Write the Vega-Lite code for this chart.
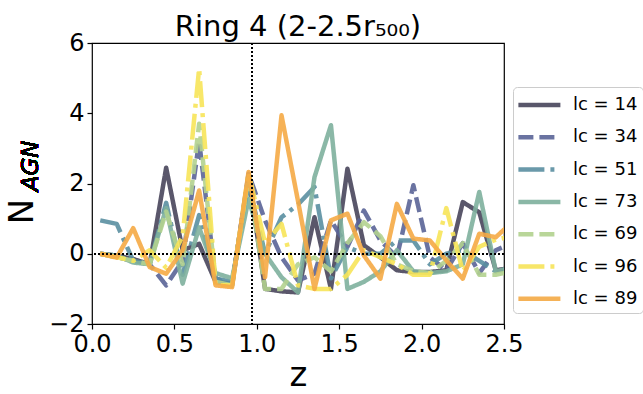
{
  "$schema": "https://vega.github.io/schema/vega-lite/v6.json",
  "width": 412,
  "height": 281,
  "autosize": {"type": "none"},
  "padding": {"left": 92, "top": 43, "right": 139, "bottom": 70},
  "background": "white",
  "title": {"text": "Ring 4 (2-2.5r₅₀₀)", "fontSize": 29, "font": "DejaVu Sans", "fontWeight": "normal", "anchor": "middle", "frame": "group", "offset": 7, "dy": 18, "color": "black"},
  "config": {
    "font": "DejaVu Sans",
    "view": {"stroke": "black", "strokeWidth": 1.2},
    "axis": {"grid": false, "domain": false, "labelFlush": false, "tickColor": "black", "tickSize": 5, "tickWidth": 1.2, "labelColor": "black", "labelFont": "DejaVu Sans", "labelFontSize": 24, "titleColor": "black", "titleFont": "DejaVu Sans", "titleFontWeight": "normal"}
  },
  "data": {"values": [
    {"s":"lc = 14","z":0.05,"n":0},{"s":"lc = 14","z":0.15,"n":-0.05},{"s":"lc = 14","z":0.25,"n":-0.15},{"s":"lc = 14","z":0.35,"n":-0.3},{"s":"lc = 14","z":0.45,"n":2.45},{"s":"lc = 14","z":0.55,"n":0.1},{"s":"lc = 14","z":0.65,"n":0.28},{"s":"lc = 14","z":0.75,"n":-0.8},{"s":"lc = 14","z":0.85,"n":-0.85},{"s":"lc = 14","z":0.95,"n":2.2},{"s":"lc = 14","z":1.05,"n":-1.0},{"s":"lc = 14","z":1.15,"n":-1.07},{"s":"lc = 14","z":1.25,"n":-1.1},{"s":"lc = 14","z":1.35,"n":1.04},{"s":"lc = 14","z":1.45,"n":-1.0},{"s":"lc = 14","z":1.55,"n":2.42},{"s":"lc = 14","z":1.65,"n":0.24},{"s":"lc = 14","z":1.75,"n":-0.1},{"s":"lc = 14","z":1.85,"n":-0.47},{"s":"lc = 14","z":1.95,"n":-0.52},{"s":"lc = 14","z":2.05,"n":-0.52},{"s":"lc = 14","z":2.15,"n":-0.47},{"s":"lc = 14","z":2.25,"n":1.47},{"s":"lc = 14","z":2.35,"n":1.18},{"s":"lc = 14","z":2.45,"n":-0.47},{"s":"lc = 14","z":2.55,"n":-0.4},
    {"s":"lc = 34","z":0.05,"n":0},{"s":"lc = 34","z":0.15,"n":-0.1},{"s":"lc = 34","z":0.25,"n":-0.2},{"s":"lc = 34","z":0.35,"n":-0.3},{"s":"lc = 34","z":0.45,"n":-0.9},{"s":"lc = 34","z":0.55,"n":-0.2},{"s":"lc = 34","z":0.65,"n":3.2},{"s":"lc = 34","z":0.75,"n":-0.7},{"s":"lc = 34","z":0.85,"n":-0.9},{"s":"lc = 34","z":0.95,"n":2.28},{"s":"lc = 34","z":1.05,"n":0.95},{"s":"lc = 34","z":1.15,"n":-0.1},{"s":"lc = 34","z":1.25,"n":-0.76},{"s":"lc = 34","z":1.35,"n":-0.57},{"s":"lc = 34","z":1.45,"n":0.95},{"s":"lc = 34","z":1.55,"n":0.2},{"s":"lc = 34","z":1.65,"n":1.23},{"s":"lc = 34","z":1.75,"n":0.38},{"s":"lc = 34","z":1.85,"n":-0.1},{"s":"lc = 34","z":1.95,"n":1.95},{"s":"lc = 34","z":2.05,"n":-0.1},{"s":"lc = 34","z":2.15,"n":-0.47},{"s":"lc = 34","z":2.25,"n":0.3},{"s":"lc = 34","z":2.35,"n":-0.55},{"s":"lc = 34","z":2.45,"n":0.1},{"s":"lc = 34","z":2.55,"n":0.3},
    {"s":"lc = 51","z":0.05,"n":0.95},{"s":"lc = 51","z":0.15,"n":0.85},{"s":"lc = 51","z":0.25,"n":-0.2},{"s":"lc = 51","z":0.35,"n":-0.3},{"s":"lc = 51","z":0.45,"n":1.45},{"s":"lc = 51","z":0.55,"n":-0.6},{"s":"lc = 51","z":0.65,"n":1.1},{"s":"lc = 51","z":0.75,"n":-0.7},{"s":"lc = 51","z":0.85,"n":-0.8},{"s":"lc = 51","z":0.95,"n":2.0},{"s":"lc = 51","z":1.05,"n":0.0},{"s":"lc = 51","z":1.15,"n":1.04},{"s":"lc = 51","z":1.25,"n":1.4},{"s":"lc = 51","z":1.35,"n":1.9},{"s":"lc = 51","z":1.45,"n":-0.7},{"s":"lc = 51","z":1.55,"n":0.19},{"s":"lc = 51","z":1.65,"n":0.0},{"s":"lc = 51","z":1.75,"n":0.0},{"s":"lc = 51","z":1.85,"n":0.38},{"s":"lc = 51","z":1.95,"n":0.38},{"s":"lc = 51","z":2.05,"n":-0.3},{"s":"lc = 51","z":2.15,"n":0.0},{"s":"lc = 51","z":2.25,"n":0.1},{"s":"lc = 51","z":2.35,"n":-0.2},{"s":"lc = 51","z":2.45,"n":-0.5},{"s":"lc = 51","z":2.55,"n":-0.4},
    {"s":"lc = 73","z":0.05,"n":0},{"s":"lc = 73","z":0.15,"n":-0.05},{"s":"lc = 73","z":0.25,"n":-0.25},{"s":"lc = 73","z":0.35,"n":-0.3},{"s":"lc = 73","z":0.45,"n":1.3},{"s":"lc = 73","z":0.55,"n":-0.85},{"s":"lc = 73","z":0.65,"n":0.75},{"s":"lc = 73","z":0.75,"n":-0.55},{"s":"lc = 73","z":0.85,"n":-0.7},{"s":"lc = 73","z":0.95,"n":1.55},{"s":"lc = 73","z":1.05,"n":0.0},{"s":"lc = 73","z":1.15,"n":-0.67},{"s":"lc = 73","z":1.25,"n":-1.1},{"s":"lc = 73","z":1.35,"n":2.18},{"s":"lc = 73","z":1.45,"n":3.66},{"s":"lc = 73","z":1.55,"n":-1.0},{"s":"lc = 73","z":1.65,"n":-0.8},{"s":"lc = 73","z":1.75,"n":-0.5},{"s":"lc = 73","z":1.85,"n":0.1},{"s":"lc = 73","z":1.95,"n":-0.5},{"s":"lc = 73","z":2.05,"n":-0.55},{"s":"lc = 73","z":2.15,"n":-0.5},{"s":"lc = 73","z":2.25,"n":-0.3},{"s":"lc = 73","z":2.35,"n":1.76},{"s":"lc = 73","z":2.45,"n":-0.5},{"s":"lc = 73","z":2.55,"n":-0.4},
    {"s":"lc = 69","z":0.05,"n":0},{"s":"lc = 69","z":0.15,"n":-0.1},{"s":"lc = 69","z":0.25,"n":-0.2},{"s":"lc = 69","z":0.35,"n":-0.3},{"s":"lc = 69","z":0.45,"n":1.2},{"s":"lc = 69","z":0.55,"n":-0.3},{"s":"lc = 69","z":0.65,"n":3.7},{"s":"lc = 69","z":0.75,"n":-0.8},{"s":"lc = 69","z":0.85,"n":-0.9},{"s":"lc = 69","z":0.95,"n":2.2},{"s":"lc = 69","z":1.05,"n":-1.0},{"s":"lc = 69","z":1.15,"n":-1.0},{"s":"lc = 69","z":1.25,"n":-0.3},{"s":"lc = 69","z":1.35,"n":-0.1},{"s":"lc = 69","z":1.45,"n":-0.5},{"s":"lc = 69","z":1.55,"n":0.3},{"s":"lc = 69","z":1.65,"n":0.9},{"s":"lc = 69","z":1.75,"n":0.5},{"s":"lc = 69","z":1.85,"n":-0.3},{"s":"lc = 69","z":1.95,"n":-0.5},{"s":"lc = 69","z":2.05,"n":-0.55},{"s":"lc = 69","z":2.15,"n":-0.2},{"s":"lc = 69","z":2.25,"n":0.3},{"s":"lc = 69","z":2.35,"n":-0.6},{"s":"lc = 69","z":2.45,"n":-0.6},{"s":"lc = 69","z":2.55,"n":-0.5},
    {"s":"lc = 96","z":0.05,"n":0},{"s":"lc = 96","z":0.15,"n":-0.1},{"s":"lc = 96","z":0.25,"n":-0.2},{"s":"lc = 96","z":0.35,"n":0.1},{"s":"lc = 96","z":0.45,"n":-0.4},{"s":"lc = 96","z":0.55,"n":0.5},{"s":"lc = 96","z":0.65,"n":5.27},{"s":"lc = 96","z":0.75,"n":-0.9},{"s":"lc = 96","z":0.85,"n":-0.9},{"s":"lc = 96","z":0.95,"n":2.3},{"s":"lc = 96","z":1.05,"n":0.3},{"s":"lc = 96","z":1.15,"n":0.85},{"s":"lc = 96","z":1.25,"n":-0.9},{"s":"lc = 96","z":1.35,"n":-1.0},{"s":"lc = 96","z":1.45,"n":-1.0},{"s":"lc = 96","z":1.55,"n":-0.6},{"s":"lc = 96","z":1.65,"n":0.1},{"s":"lc = 96","z":1.75,"n":-0.1},{"s":"lc = 96","z":1.85,"n":-0.3},{"s":"lc = 96","z":1.95,"n":-0.6},{"s":"lc = 96","z":2.05,"n":-0.6},{"s":"lc = 96","z":2.15,"n":1.3},{"s":"lc = 96","z":2.25,"n":-0.5},{"s":"lc = 96","z":2.35,"n":0.2},{"s":"lc = 96","z":2.45,"n":0.4},{"s":"lc = 96","z":2.55,"n":0.5},
    {"s":"lc = 89","z":0.05,"n":0},{"s":"lc = 89","z":0.15,"n":-0.11},{"s":"lc = 89","z":0.25,"n":0.73},{"s":"lc = 89","z":0.35,"n":-0.38},{"s":"lc = 89","z":0.45,"n":-0.57},{"s":"lc = 89","z":0.55,"n":0.1},{"s":"lc = 89","z":0.65,"n":1.8},{"s":"lc = 89","z":0.75,"n":-0.9},{"s":"lc = 89","z":0.85,"n":-0.95},{"s":"lc = 89","z":0.95,"n":2.33},{"s":"lc = 89","z":1.05,"n":-0.67},{"s":"lc = 89","z":1.15,"n":3.94},{"s":"lc = 89","z":1.25,"n":1.5},{"s":"lc = 89","z":1.35,"n":-1.0},{"s":"lc = 89","z":1.45,"n":0.95},{"s":"lc = 89","z":1.55,"n":1.14},{"s":"lc = 89","z":1.65,"n":-0.05},{"s":"lc = 89","z":1.75,"n":-0.71},{"s":"lc = 89","z":1.85,"n":1.42},{"s":"lc = 89","z":1.95,"n":0.43},{"s":"lc = 89","z":2.05,"n":0.38},{"s":"lc = 89","z":2.15,"n":-0.19},{"s":"lc = 89","z":2.25,"n":-0.71},{"s":"lc = 89","z":2.35,"n":0.57},{"s":"lc = 89","z":2.45,"n":0.47},{"s":"lc = 89","z":2.55,"n":0.9}
  ]},
  "layer": [
    {
      "mark": {"type": "line", "strokeWidth": 4.5, "opacity": 0.9, "clip": true, "strokeCap": "butt", "strokeJoin": "round"},
      "encoding": {
        "x": {"field": "z", "type": "quantitative", "scale": {"domain": [0, 2.5], "nice": false},
              "axis": {"values": [0, 0.5, 1, 1.5, 2, 2.5], "format": ".1f", "title": "z", "titleFontSize": 34, "labelPadding": 3, "titlePadding": 2}},
        "y": {"field": "n", "type": "quantitative", "scale": {"domain": [-2, 6], "nice": false},
              "axis": {"values": [-2, 0, 2, 4, 6], "labelExpr": "datum.value < 0 ? '−' + abs(datum.value) : datum.label", "title": "N", "titleFontSize": 34, "titleAngle": 270, "titleAlign": "center", "titleBaseline": "middle", "titleX": -70, "titleY": 168, "labelPadding": 3}},
        "color": {"field": "s", "type": "nominal",
                  "scale": {"domain": ["lc = 14", "lc = 34", "lc = 51", "lc = 73", "lc = 69", "lc = 96", "lc = 89"],
                            "range": ["#48455b", "#5a6497", "#5a8fa1", "#7eb09d", "#b2d28f", "#f7e459", "#f5aa45"]},
                  "legend": {"title": null, "orient": "none", "legendX": 421, "legendY": 44, "symbolType": "M-1.2,0H2.8", "symbolSize": 441, "symbolStrokeWidth": 4.5, "labelFontSize": 18, "labelFont": "DejaVu Sans", "labelColor": "black", "labelOffset": 29, "rowPadding": 10.3, "padding": 5, "strokeColor": "#cccccc", "fillColor": "white", "cornerRadius": 4}},
        "strokeDash": {"field": "s", "type": "nominal",
                  "scale": {"domain": ["lc = 14", "lc = 34", "lc = 51", "lc = 73", "lc = 69", "lc = 96", "lc = 89"],
                            "range": [[1, 0], [15, 6], [26, 6, 4, 6], [1, 0], [15, 6], [26, 6, 4, 6], [1, 0]]},
                  "legend": null},
        "order": {"field": "z", "type": "quantitative"}
      }
    },
    {
      "mark": {"type": "rule", "color": "black", "strokeWidth": 1.5, "strokeDash": [1.5, 2.5]},
      "encoding": {"y": {"datum": 0}}
    },
    {
      "mark": {"type": "rule", "color": "black", "strokeWidth": 1.5, "strokeDash": [1.5, 2.5]},
      "encoding": {"x": {"datum": 0.97}}
    },
    {
      "mark": {"type": "text", "text": "AGN", "fontSize": 23, "fontStyle": "italic", "font": "DejaVu Sans", "angle": 270, "align": "center", "baseline": "middle", "color": "black"},
      "encoding": {"x": {"datum": -0.37}, "y": {"datum": 2.5}}
    }
  ]
}
